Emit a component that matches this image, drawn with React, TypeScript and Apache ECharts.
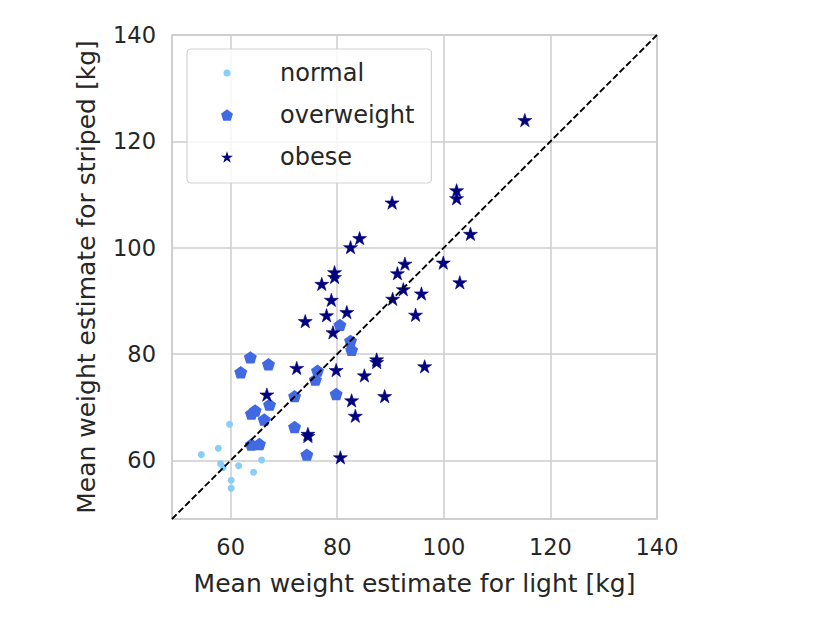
import React, { useEffect, useRef } from "react";
import * as echarts from "echarts";

// Mean weight estimates [kg]: light (x) vs striped (y)
const normalLight = [59.8, 57.7, 54.5, 58.1, 58.6, 61.5, 65.8, 64.3, 60.1, 60.1];
const normalStriped = [66.8, 62.3, 61.1, 59.4, 58.7, 59.0, 60.1, 57.8, 56.3, 54.8];

const overweightLight = [80.5, 82.5, 82.7, 63.7, 67.1, 76.3, 61.9, 75.9, 79.8, 72.0, 67.3, 64.6, 63.9, 66.3, 72.0, 63.9, 65.4, 74.3];
const overweightStriped = [85.5, 82.5, 80.8, 79.4, 78.1, 76.9, 76.6, 75.2, 72.5, 72.1, 70.5, 69.4, 68.8, 67.7, 66.3, 63.0, 63.1, 61.1];

const obeseLight = [115.2, 102.4, 102.4, 90.3, 105.0, 84.2, 82.5, 99.9, 92.7, 91.3, 79.5, 79.5, 103.0, 77.1, 92.4, 95.8, 90.4, 78.9, 81.8, 94.7, 78.0, 74.0, 79.2, 87.4, 87.4, 96.4, 72.4, 79.8, 85.1, 66.8, 88.9, 82.7, 83.4, 74.5, 74.5, 80.6];
const obeseStriped = [124.0, 110.8, 109.3, 108.5, 102.6, 101.8, 100.1, 97.2, 97.0, 95.2, 95.4, 94.5, 93.5, 93.2, 92.2, 91.4, 90.4, 90.2, 87.9, 87.4, 87.3, 86.2, 84.1, 79.0, 78.5, 77.7, 77.4, 77.0, 76.0, 72.4, 72.1, 71.3, 68.4, 65.0, 64.6, 60.6];

const categories = ["normal", "overweight", "obese"];
const axisMin = 49;
const axisMax = 140;

function polygonPath(n: number, inner: number | null): string {
  const pts: string[] = [];
  const count = inner == null ? n : n * 2;
  for (let k = 0; k < count; k++) {
    const ang = -Math.PI / 2 + (k * 2 * Math.PI) / count;
    const r = inner != null && k % 2 === 1 ? inner : 1;
    pts.push(`${(r * Math.cos(ang)).toFixed(4)} ${(r * Math.sin(ang)).toFixed(4)}`);
  }
  return "path://M" + pts.join("L") + "Z";
}

const PENTAGON = polygonPath(5, null);
const STAR = polygonPath(5, 0.381966);
const SMALL_DOT = "path://M0 0M12 12M2.5 6a3.5 3.5 0 1 0 7 0a3.5 3.5 0 1 0 -7 0Z";

const FONT = "DejaVu Sans, Verdana, sans-serif";
const TEXT = "#262626";
const GRIDC = "#cccccc";

function zip(a: number[], b: number[]) {
  return a.map((v, i) => [v, b[i]]);
}

export default function App() {
  const ref = useRef<HTMLDivElement>(null);
  useEffect(() => {
    document.body.style.margin = "0";
    const chart = echarts.init(ref.current!, null, { renderer: "svg" });
    const axisCommon = {
      type: "value" as const,
      min: axisMin,
      max: axisMax,
      splitNumber: 5,
      axisLine: { show: false },
      axisTick: { show: false },
      splitLine: { show: true, lineStyle: { color: GRIDC, width: 1.5 } },
      axisLabel: {
        showMinLabel: false,
        fontSize: 22.5,
        fontFamily: FONT,
        color: TEXT,
        margin: 16,
      },
      nameLocation: "middle" as const,
      nameTextStyle: { fontSize: 25, fontFamily: FONT, color: TEXT },
    };
    chart.setOption({
      animation: false,
      backgroundColor: "#ffffff",
      grid: {
        left: 172,
        top: 35,
        width: 485,
        height: 484,
        show: true,
        borderColor: GRIDC,
        borderWidth: 1.5,
        backgroundColor: "transparent",
      },
      xAxis: { ...axisCommon, name: "Mean weight estimate for light [kg]", nameGap: 52 },
      yAxis: { ...axisCommon, name: "Mean weight estimate for striped [kg]", nameGap: 73 },
      legend: {
        orient: "vertical",
        left: 187,
        top: 49,
        itemWidth: 12,
        itemHeight: 12,
        itemGap: 14,
        padding: [10, 17, 12, 34],
        backgroundColor: "rgba(255,255,255,0.8)",
        borderColor: "rgba(204,204,204,0.9)",
        borderWidth: 1.2,
        borderRadius: 4,
        textStyle: {
          fontSize: 24,
          fontFamily: FONT,
          color: TEXT,
          lineHeight: 28,
          padding: [0, 0, 0, 42],
        },
        data: [
          { name: categories[0], icon: SMALL_DOT },
          { name: categories[1], icon: PENTAGON },
          { name: categories[2], icon: STAR, itemStyle: { borderWidth: 0 } },
        ],
      },
      series: [
        {
          name: categories[0],
          type: "scatter",
          symbol: "circle",
          symbolSize: 7,
          itemStyle: { color: "#87CEFA", opacity: 1 },
          data: zip(normalLight, normalStriped),
          z: 2,
        },
        {
          name: categories[1],
          type: "scatter",
          symbol: PENTAGON,
          symbolKeepAspect: true,
          symbolSize: 13,
          itemStyle: { color: "#4169E1", opacity: 1 },
          data: zip(overweightLight, overweightStriped),
          z: 2,
        },
        {
          name: categories[2],
          type: "scatter",
          symbol: STAR,
          symbolKeepAspect: true,
          symbolSize: 14,
          itemStyle: { color: "#000080", opacity: 1, borderColor: "#000080", borderWidth: 0.6 },
          data: zip(obeseLight, obeseStriped),
          z: 2,
        },
        {
          name: "identity",
          type: "line",
          data: [
            [axisMin, axisMin],
            [axisMax, axisMax],
          ],
          symbol: "none",
          silent: true,
          lineStyle: { color: "#000000", width: 1.9, type: [6.5, 2.8] },
          z: 3,
        },
      ],
    });
    return () => chart.dispose();
  }, []);
  return <div ref={ref} style={{ width: 830, height: 623 }} />;
}
